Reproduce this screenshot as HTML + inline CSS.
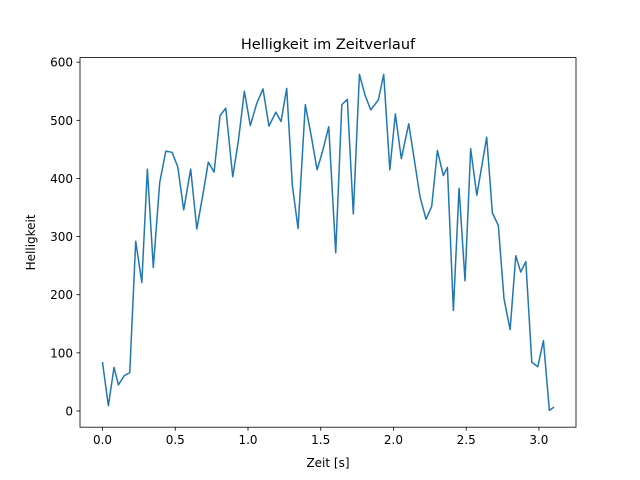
<!DOCTYPE html>
<html><head><meta charset="utf-8"><style>
body{margin:0;background:#fff}
svg{display:block;font-family:"DejaVu Sans","Liberation Sans",sans-serif}
</style></head><body>
<svg id="chart" width="640" height="480" viewBox="0 0 640 480">
<rect width="640" height="480" fill="#fff"/>
<text x="328" y="49" text-anchor="middle" font-size="14.5" fill="#000">Helligkeit im Zeitverlauf</text>
<g id="plot"></g>
<text x="328" y="467" text-anchor="middle" font-size="12" fill="#000">Zeit [s]</text>
<text transform="translate(35,242.4) rotate(-90)" text-anchor="middle" font-size="12" fill="#000">Helligkeit</text>
</svg>
<script>
const times=[0.00,0.04,0.079,0.109,0.15,0.187,0.228,0.27,0.308,0.349,0.393,0.435,0.478,0.517,0.558,0.606,0.648,0.689,0.727,0.767,0.808,0.847,0.895,0.934,0.975,1.016,1.06,1.103,1.144,1.191,1.227,1.266,1.305,1.344,1.394,1.434,1.475,1.514,1.555,1.603,1.645,1.683,1.724,1.766,1.805,1.844,1.896,1.933,1.975,2.013,2.054,2.105,2.144,2.183,2.224,2.263,2.302,2.343,2.371,2.412,2.451,2.492,2.531,2.573,2.607,2.641,2.68,2.721,2.76,2.802,2.841,2.875,2.91,2.951,2.992,3.031,3.072,3.10];
const brightness=[83,9,75,45,61,66,292,221,416,247,393,447,445,420,346,416,313,371,428,411,508,521,403,465,550,491,529,554,490,514,498,555,388,314,527,474,415,448,489,272,527,536,339,579,543,518,535,579,415,511,434,494,431,368,330,352,448,405,419,173,383,224,451,371,421,471,341,319,193,140,267,239,257,84,76,121,1,6];
const xTicks=[0.0,0.5,1.0,1.5,2.0,2.5,3.0];
const xTickLabels=["0.0","0.5","1.0","1.5","2.0","2.5","3.0"];
const yTicks=[0,100,200,300,400,500,600];
const yTickLabels=["0","100","200","300","400","500","600"];

const L=80,R=576,T=57.6,B=427.2;
const xmin0=Math.min(...times),xmax0=Math.max(...times);
const ymin0=Math.min(...brightness),ymax0=Math.max(...brightness);
const xm=(xmax0-xmin0)*0.05,ym=(ymax0-ymin0)*0.05;
const xmin=xmin0-xm,xmax=xmax0+xm,ymin=ymin0-ym,ymax=ymax0+ym;
const sx=v=>L+(v-xmin)/(xmax-xmin)*(R-L);
const sy=v=>B-(v-ymin)/(ymax-ymin)*(B-T);
const NS="http://www.w3.org/2000/svg";
const g=document.getElementById('plot');
function mk(tag,attrs){const e=document.createElementNS(NS,tag);for(const k in attrs)e.setAttribute(k,attrs[k]);return e;}

let d="";
times.forEach((t,i)=>{d+=(i?"L":"M")+sx(t).toFixed(2)+","+sy(brightness[i]).toFixed(2);});
const line=mk('path',{d:d,fill:'none',stroke:'#1f77b4','stroke-width':1.5,'stroke-linejoin':'round','stroke-linecap':'square'});


g.appendChild(line);

xTicks.forEach((v,i)=>{
  const x=sx(v);
  const tk=mk('line',{x1:x,x2:x,y1:B,y2:B+3.5,stroke:'#000','stroke-width':0.8});
  
  
  g.appendChild(tk);
  const tx=mk('text',{x:x,y:B+17,'text-anchor':'middle','font-size':12,fill:'#000'});
  tx.textContent=xTickLabels[i];
  
  
  g.appendChild(tx);
});
yTicks.forEach((v,i)=>{
  const y=sy(v);
  const tk=mk('line',{x1:L-3.5,x2:L,y1:y,y2:y,stroke:'#000','stroke-width':0.8});
  
  
  g.appendChild(tk);
  const tx=mk('text',{x:L-7,y:y+4.5,'text-anchor':'end','font-size':12,fill:'#000'});
  tx.textContent=yTickLabels[i];
  
  
  g.appendChild(tx);
});
const frame=mk('rect',{x:L,y:T,width:R-L,height:B-T,fill:'none',stroke:'#000','stroke-width':0.8});


g.appendChild(frame);
</script>
</body></html>
